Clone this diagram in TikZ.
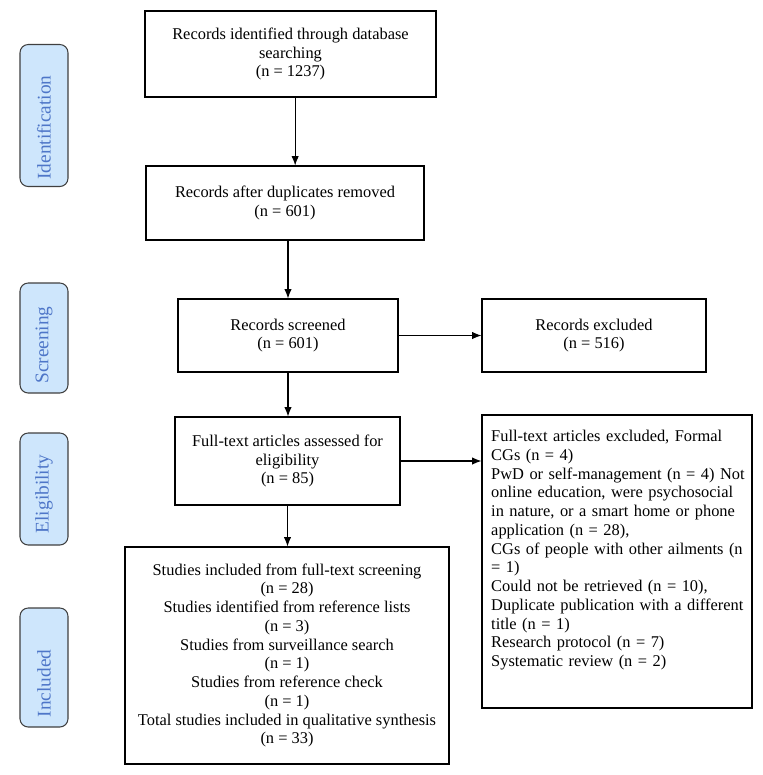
\documentclass[tikz,border=0pt]{standalone}
\usepackage{fontspec}
\setmainfont{Liberation Serif}
\usetikzlibrary{arrows.meta}

\definecolor{phasefill}{RGB}{206,230,252}
\definecolor{phasetext}{RGB}{78,118,200}

\begin{document}
\begin{tikzpicture}[x=0.03cm, y=-0.03cm, align=center,
    box/.style={draw, line width=0.9pt, inner sep=4pt},
    phase/.style={draw=black!75, line width=0.9pt, rounded corners=7pt, fill=phasefill,
        text=phasetext, rotate=90, minimum height=1.44cm, font=\fontsize{16.5}{18}\selectfont},
    arr/.style={-{Latex[length=2.8mm,width=2.2mm]}, line width=0.9pt}]
        \useasboundingbox (0,0) rectangle (763,775);
        \fontsize{14}{16}\selectfont

        \node[phase, minimum width=4.26cm](Identification) at (44,115.5) {Identification\hspace{0.72cm}};
        \node[phase, minimum width=3.3cm](Screening) at (44,338) {Screening\hspace{0.42cm}};
        \node[phase, minimum width=3.36cm](Eligibility) at (44,489) {Eligibility\hspace{0.3cm}};
        \node[phase, minimum width=3.57cm](Included) at (44,667.5) {Included\hspace{0.96cm}};

        \node[box, minimum width=8.73cm, minimum height=2.58cm](Identified) at (290.5,54) {Records identified through database\\searching\\(n = 1237)};
        \node[box, minimum width=8.34cm, minimum height=2.22cm](Deduplicated) at (285,203) {Records after duplicates removed\\(n = 601)};
        \node[box, minimum width=6.6cm, minimum height=2.19cm](Screened) at (288,335.5) {Records screened\\(n = 601)};
        \node[box, minimum width=6.72cm, minimum height=2.19cm](Excluded) at (594,335.5) {Records excluded\\(n = 516)};
        \node[box, minimum width=6.75cm, minimum height=2.64cm](Assessed) at (287.5,461) {Full-text articles assessed for\\eligibility\\(n = 85)};
        \node[box, minimum width=8.1cm, minimum height=8.79cm](Fulltext excluded) at (617,561.5) {};
        \node[anchor=north west, align=left, text width=7.75cm, inner sep=0pt](Reasons) at (491,430) {Full-text articles excluded, Formal\\CGs (n = 4)\\PwD or self-management (n = 4) Not\\online education, were psychosocial\\in nature, or a smart home or phone\\application (n = 28),\\CGs of people with other ailments (n\\= 1)\\Could not be retrieved (n = 10),\\Duplicate publication with a different\\title (n = 1)\\Research protocol (n = 7)\\Systematic review (n = 2)};
        \node[box, minimum width=9.72cm, minimum height=6.51cm](Studies included) at (287,655.5) {Studies included from full-text screening\\(n = 28)\\Studies identified from reference lists\\(n = 3)\\Studies from surveillance search\\(n = 1)\\Studies from reference check\\(n = 1)\\Total studies included in qualitative synthesis\\(n = 33)};

        \draw[arr] ([xshift=0.14cm]Identified.south) -- ([xshift=0.14cm]Identified.south |- Deduplicated.north);
        \draw[arr] (Screened.north |- Deduplicated.south) -- (Screened.north);
        \draw[arr] (Screened.east) -- (Excluded.west);
        \draw[arr] (Screened.south) -- (Screened.south |- Assessed.north);
        \draw[arr] (Assessed.east) -- (Assessed.east -| Fulltext excluded.west);
        \draw[arr] (Assessed.south) -- (Assessed.south |- Studies included.north);
    \end{tikzpicture}
\end{document}
